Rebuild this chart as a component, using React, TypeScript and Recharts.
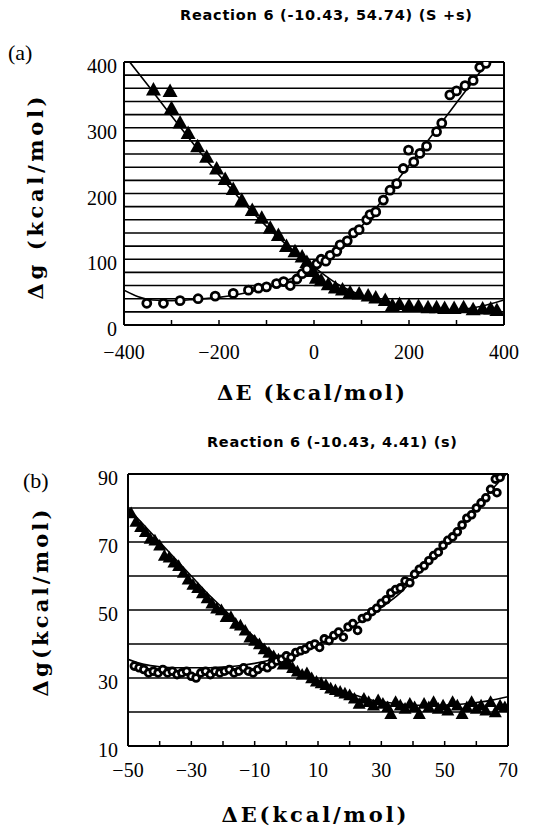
import React from 'react';
import { ComposedChart, Scatter, Line, XAxis, YAxis, CartesianGrid, ReferenceLine } from 'recharts';

type Pt = [number, number];

// (a) Reaction 6 (-10.43, 54.74) (S +s)
const aTriangles: Pt[] = [
  [-338, 358], [-303, 356], [-300, 330], [-282, 308], [-265, 292], [-245, 272], [-226, 256],
  [-205, 238], [-187, 222], [-170, 207], [-152, 190], [-130, 175], [-110, 163], [-92, 148],
  [-75, 137], [-58, 120], [-40, 112], [-25, 104], [-15, 96], [-8, 88], [-2, 82], [5, 72],
  [15, 68], [30, 62], [45, 57], [60, 54], [76, 50], [95, 48], [114, 45], [130, 42], [150, 38],
  [165, 30], [180, 32], [200, 30], [220, 29], [240, 27], [258, 27], [275, 26], [295, 26],
  [315, 27], [335, 24], [355, 25], [372, 25], [385, 23],
];
const aCircles: Pt[] = [
  [-352, 33], [-317, 33], [-282, 37], [-244, 40], [-208, 44], [-170, 48], [-138, 53], [-117, 56],
  [-100, 58], [-79, 63], [-64, 66], [-50, 60], [-36, 70], [-25, 78], [-15, 85], [6, 93], [15, 100],
  [25, 97], [34, 106], [48, 112], [55, 122], [70, 128], [83, 140], [95, 145], [111, 160], [118, 168],
  [130, 172], [146, 190], [160, 205], [174, 215], [188, 238], [199, 266], [210, 248], [223, 261],
  [237, 272], [258, 294], [269, 307], [286, 350], [300, 356], [318, 364], [335, 372], [349, 392],
  [362, 398],
];
const aFitDown: Pt[] = [
  [-388, 400], [-350, 365], [-300, 318], [-250, 272], [-200, 228], [-150, 187], [-100, 150],
  [-50, 117], [0, 88], [50, 62], [100, 45], [150, 32], [200, 25], [250, 22], [300, 23], [350, 28],
  [400, 38],
];
const aFitUp: Pt[] = [
  [-400, 53], [-370, 43], [-340, 38], [-300, 37], [-250, 39], [-200, 42], [-150, 48], [-100, 57],
  [-50, 70], [0, 88], [50, 115], [100, 150], [150, 196], [200, 243], [250, 290], [300, 338],
  [350, 385], [366, 400],
];
const aXTicks = [-400, -300, -200, -100, 0, 100, 200, 300, 400];
const aXLabels = [-400, -200, 0, 200, 400];
const aYTicks = [0, 20, 40, 60, 80, 100, 120, 140, 160, 180, 200, 220, 240, 260, 280, 300, 320, 340, 360, 380, 400];
const aYLabels = [0, 100, 200, 300, 400];

// (b) Reaction 6 (-10.43, 4.41) (s)
const bTriangles: Pt[] = [
  [-49, 78.5], [-47.5, 76], [-46, 74.5], [-44.5, 73], [-43, 71], [-41.5, 70.5], [-40, 69],
  [-38.5, 66], [-37, 65.5], [-35.5, 64], [-34, 63], [-32.5, 61], [-31, 59], [-29.5, 57.5],
  [-28, 56.5], [-26.5, 55], [-25, 53.5], [-23.5, 52], [-22, 50.5], [-20.5, 50], [-19, 48],
  [-17.5, 48], [-16, 46], [-14.5, 45.5], [-13, 44], [-11.5, 42], [-10, 41], [-8.5, 40], [-7, 38.5],
  [-5.5, 37.5], [-4, 36.5], [-2.5, 35.5], [-1, 34], [0.5, 34.5], [2, 33], [3.5, 32], [5, 31],
  [6.5, 31.5], [8, 30], [9.5, 29], [11, 28.5], [12.5, 28], [14, 27], [15.5, 26.5], [17, 26],
  [18.5, 25.5], [20, 25], [21.5, 24], [23, 22.5], [24.5, 24], [26, 23], [27.5, 22], [29, 23.5],
  [30.5, 22.5], [32, 21.5], [33, 19.5], [34.5, 23], [36, 22], [37.5, 21], [39, 22.5], [40.5, 21.5],
  [42, 19.5], [43.5, 22.5], [45, 21.5], [46.5, 23], [48, 21], [49.5, 22], [51, 20.5], [52.5, 23],
  [54, 22], [55.5, 19.5], [57, 21.5], [58.5, 23], [60, 21], [61.5, 22], [63, 20.5], [64.5, 23],
  [66, 20], [67.5, 22], [69, 21.5],
];
const bCircles: Pt[] = [
  [-48, 33.5], [-46.5, 33], [-45, 32.5], [-43.5, 31.5], [-42, 32], [-40.5, 31.5], [-39, 32.5],
  [-37.5, 31.5], [-36, 32], [-34.5, 31], [-33, 31.5], [-31.5, 32], [-30, 30.5], [-28.5, 30],
  [-27, 31.5], [-25.5, 32], [-24, 31], [-22.5, 32], [-21, 31.5], [-19.5, 32], [-18, 32.5],
  [-16.5, 31.5], [-15, 32], [-13.5, 33], [-12, 32], [-10.5, 31.5], [-9, 32.5], [-7.5, 33.5],
  [-6, 33], [-4.5, 34], [-3, 35], [-1.5, 35.5], [0, 36.5], [1.5, 36], [3, 37.5], [4.5, 38],
  [6, 38.5], [7.5, 39.5], [9, 40], [10.5, 39], [12, 41.5], [13.5, 41], [15, 42.5], [16.5, 43.5],
  [18, 42], [19.5, 45], [21, 46], [22.5, 44], [24, 47.5], [25.5, 48], [27, 49.5], [28.5, 50.5],
  [30, 52], [31.5, 53], [33, 55], [34.5, 56], [36, 56.5], [37.5, 58.5], [39, 58], [40.5, 60.5],
  [42, 62], [43.5, 63], [45, 64.5], [46.5, 66], [48, 67], [49.5, 69], [51, 70.5], [52.5, 71.5],
  [54, 73], [55.5, 75], [57, 77], [58.5, 78], [60, 80], [61.5, 81.5], [63, 83], [64.5, 85.5],
  [66, 88.5], [66.5, 84.5], [67.5, 89],
];
const bFitDown: Pt[] = [
  [-50, 80], [-45, 75], [-40, 70], [-35, 65], [-30, 60], [-25, 55], [-20, 50.5], [-15, 46],
  [-10, 42], [-5, 38], [0, 34.5], [5, 31.5], [10, 29], [15, 27], [20, 25.5], [25, 24], [30, 23],
  [35, 22.5], [40, 22], [45, 22], [50, 22], [55, 22.3], [60, 22.8], [65, 23.5], [70, 24.5],
];
const bFitUp: Pt[] = [
  [-50, 35.5], [-45, 34], [-40, 33.3], [-35, 33], [-30, 33], [-25, 33], [-20, 33.2], [-15, 33.6],
  [-10, 34.3], [-5, 35.3], [0, 36.6], [5, 38.2], [10, 40], [15, 42.2], [20, 44.8], [25, 47.6],
  [30, 50.8], [35, 54.2], [40, 59], [45, 64], [50, 69], [55, 74.5], [60, 80], [65, 85.5], [69.5, 90],
];
const bXTicks = [-50, -40, -30, -20, -10, 0, 10, 20, 30, 40, 50, 60, 70];
const bXLabels = [-50, -30, -10, 10, 30, 50, 70];
const bYTicks = [10, 20, 30, 40, 50, 60, 70, 80, 90];
const bYLabels = [10, 30, 50, 70, 90];

const SERIF = "'Liberation Serif', 'Times New Roman', serif";
const toData = (pts: Pt[]) => pts.map(([x, y]) => ({ x, y }));
const fmt = (v: number) => (v < 0 ? `\u2212${-v}` : `${v}`);

const triangle = (r: number) => (p: any) => {
  const { cx, cy } = p;
  return <path d={`M${cx},${cy - r} L${cx + r},${cy + r * 0.8} L${cx - r},${cy + r * 0.8} Z`} fill="#000" />;
};
const ring = (r: number, w: number) => (p: any) => (
  <circle cx={p.cx} cy={p.cy} r={r} fill="#fff" stroke="#000" strokeWidth={w} />
);

const xTick = (labels: number[], dy: number) => (p: any) => {
  const { x, y, payload } = p;
  return (
    <g>
      <line x1={x} x2={x} y1={y} y2={y - 5} stroke="#000" strokeWidth={1.5} />
      {labels.includes(payload.value) && (
        <text x={x} y={y + dy} textAnchor="middle" fontFamily={SERIF} fontSize={20} fill="#000">
          {fmt(payload.value)}
        </text>
      )}
    </g>
  );
};
const yTick = (labels: number[], dx: number) => (p: any) => {
  const { x, y, payload } = p;
  if (!labels.includes(payload.value)) return <g />;
  return (
    <text x={x - dx} y={y + 11} textAnchor="end" fontFamily={SERIF} fontSize={20} fill="#000">
      {fmt(payload.value)}
    </text>
  );
};

interface PanelProps {
  top: number;
  margin: { top: number; right: number; bottom: number; left: number };
  xDomain: [number, number];
  yDomain: [number, number];
  xTicks: number[];
  xLabels: number[];
  yTicks: number[];
  yLabels: number[];
  triangles: Pt[];
  circles: Pt[];
  fitDown: Pt[];
  fitUp: Pt[];
  triSize: number;
  ringSize: number;
  ringWidth: number;
  gridWidth: number;
  labelDy: number;
  labelDx: number;
}

const Panel: React.FC<PanelProps> = (props) => (
  <div style={{ position: 'absolute', left: 0, top: props.top }}>
    <ComposedChart width={548} height={414} margin={props.margin}>
      <CartesianGrid vertical={false} stroke="#000" strokeWidth={props.gridWidth} />
      <XAxis
        type="number"
        dataKey="x"
        domain={props.xDomain}
        ticks={props.xTicks}
        allowDataOverflow
        interval={0}
        height={30}
        tickSize={0}
        tickMargin={0}
        axisLine={{ stroke: '#000', strokeWidth: 2 }}
        tick={xTick(props.xLabels, props.labelDy)}
      />
      <YAxis
        type="number"
        dataKey="y"
        domain={props.yDomain}
        ticks={props.yTicks}
        allowDataOverflow
        interval={0}
        width={40}
        tickSize={0}
        tickMargin={0}
        axisLine={{ stroke: '#000', strokeWidth: 2 }}
        tick={yTick(props.yLabels, props.labelDx)}
      />
      <ReferenceLine x={props.xDomain[1]} stroke="#000" strokeWidth={2} />
      <ReferenceLine y={props.yDomain[1]} stroke="#000" strokeWidth={2} />
      <Scatter data={toData(props.triangles)} dataKey="y" shape={triangle(props.triSize)} isAnimationActive={false} />
      <Scatter data={toData(props.circles)} dataKey="y" shape={ring(props.ringSize, props.ringWidth)} isAnimationActive={false} />
      <Line data={toData(props.fitDown)} dataKey="y" type="monotone" stroke="#000" strokeWidth={1.6} dot={false} isAnimationActive={false} />
      <Line data={toData(props.fitUp)} dataKey="y" type="monotone" stroke="#000" strokeWidth={1.6} dot={false} isAnimationActive={false} />
    </ComposedChart>
  </div>
);

const axisFont = { fontFamily: "'DejaVu Serif', serif", fontWeight: 700, fill: '#000' } as const;
const titleFont = { fontFamily: "'DejaVu Sans', sans-serif", fontWeight: 700, fill: '#000' } as const;

export default function App() {
  return (
    <div style={{ position: 'absolute', left: 0, top: 0, width: 548, height: 828, background: '#fff' }}>
      <Panel
        top={0}
        margin={{ top: 62, right: 44, bottom: 59, left: 84 }}
        xDomain={[-400, 400]}
        yDomain={[0, 400]}
        xTicks={aXTicks}
        xLabels={aXLabels}
        yTicks={aYTicks}
        yLabels={aYLabels}
        triangles={aTriangles}
        circles={aCircles}
        fitDown={aFitDown}
        fitUp={aFitUp}
        triSize={7.5}
        ringSize={4}
        ringWidth={2.8}
        gridWidth={1.6}
        labelDy={34}
        labelDx={7}
      />
      <Panel
        top={414}
        margin={{ top: 60, right: 40, bottom: 52, left: 88 }}
        xDomain={[-50, 70]}
        yDomain={[10, 90]}
        xTicks={bXTicks}
        xLabels={bXLabels}
        yTicks={bYTicks}
        yLabels={bYLabels}
        triangles={bTriangles}
        circles={bCircles}
        fitDown={bFitDown}
        fitUp={bFitUp}
        triSize={6.5}
        ringSize={3.4}
        ringWidth={2.8}
        gridWidth={1.4}
        labelDy={31}
        labelDx={10}
      />
      <svg width={548} height={828} style={{ position: 'absolute', left: 0, top: 0, pointerEvents: 'none' }}>
        <text x={326} y={20} textAnchor="middle" fontSize={14.5} textLength={292} {...titleFont}>
          Reaction 6 (-10.43, 54.74) (S +s)
        </text>
        <text x={8} y={60} fontFamily={SERIF} fontSize={22} fill="#000">(a)</text>
        <text x={43} y={198} textAnchor="middle" fontSize={21} textLength={203} transform="rotate(-90 43 198)" {...axisFont}>
          Δg  (kcal/mol)
        </text>
        <text x={311} y={400} textAnchor="middle" fontSize={21} textLength={188} {...axisFont}>
          ΔE  (kcal/mol)
        </text>
        <text x={332} y={447} textAnchor="middle" fontSize={14.5} textLength={250} {...titleFont}>
          Reaction 6 (-10.43, 4.41) (s)
        </text>
        <text x={23} y={488} fontFamily={SERIF} fontSize={22} fill="#000">(b)</text>
        <text x={48} y={603} textAnchor="middle" fontSize={21} textLength={187} transform="rotate(-90 48 603)" {...axisFont}>
          Δg(kcal/mol)
        </text>
        <text x={314} y={822} textAnchor="middle" fontSize={21} textLength={185} {...axisFont}>
          ΔE(kcal/mol)
        </text>
      </svg>
    </div>
  );
}
